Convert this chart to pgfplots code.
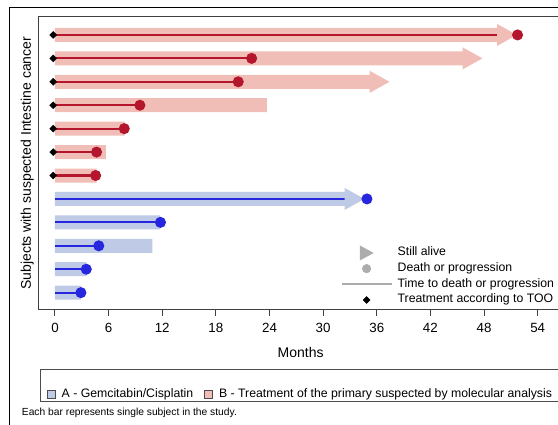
\documentclass[border=0pt]{standalone}
\usepackage{pgfplots}
\usepackage{pgfplotstable}
\pgfplotsset{compat=1.18}
\usepackage{fontspec}
\setmainfont{Liberation Sans}
\definecolor{redbar}{RGB}{240,190,182}
\definecolor{redline}{RGB}{180,22,45}
\definecolor{bluebar}{RGB}{190,202,230}
\definecolor{blueline}{RGB}{38,38,222}
\definecolor{keygray}{RGB}{172,172,172}

\pgfdeclareplotmark{rarrow}{%
 \pgfpathmoveto{\pgfpoint{-0.6pt}{8.25pt}}%
 \pgfpathlineto{\pgfpoint{14.25pt}{0pt}}%
 \pgfpathlineto{\pgfpoint{-0.6pt}{-8.25pt}}%
 \pgfpathclose\pgfusepathqfill}

% group B (red): row, bar end (arrow base for still alive), death/progression time
\pgfplotstableread{
y bar dot
12 49.55 51.75
11 45.7 22.0
10 35.3 20.5
9 23.7 9.5
8 7.8 7.75
7 5.7 4.65
6 4.65 4.55
}\redtab
\pgfplotstableread{
y x
12 49.55
11 45.7
10 35.3
}\redarrows
\pgfplotstableread{
y x
12 -0.2
11 -0.2
10 -0.2
9 -0.2
8 -0.2
7 -0.2
6 -0.2
}\diamonds
% group A (blue)
\pgfplotstableread{
y bar dot
5 32.5 34.9
4 11.75 11.8
3 10.9 4.9
2 3.5 3.5
1 2.9 2.9
}\bluetab
\pgfplotstableread{
y x
5 32.5
}\bluearrows

\begin{document}
\begin{tikzpicture}
\begin{axis}[
  at={(0,0)}, anchor=south west,
  scale only axis, width=396pt, height=220pt,
  xmin=-1.87, xmax=57.2, ymin=0.26, ymax=12.78,
  xtick={0,6,...,54}, ytick=\empty,
  xtick pos=lower, tick align=outside, major tick length=4.5pt,
  axis line style={black!75, line width=0.75pt},
  tick style={black!75, line width=0.75pt},
  every tick label/.append style={font=\fontsize{10}{12}\selectfont},
  xticklabel style={yshift=-2pt},
  /pgf/number format/assume math mode=true,
  xlabel={Months}, ylabel={Subjects with suspected Intestine cancer},
  label style={font=\fontsize{10.5}{12}\selectfont},
  xlabel style={at={(axis description cs:0.497,0)}, anchor=center, yshift=-31.5pt},
  ylabel style={at={(axis description cs:-0.0208,0.5)}, anchor=center},
  legend style={at={(axis description cs:0.572,0.222)}, anchor=north west,
    draw=none, fill=none, inner sep=0pt, column sep=3.75pt, row sep=0pt,
    font=\fontsize{9.2}{11}\selectfont,
    nodes={inner sep=0pt, text height=8pt, text depth=3.75pt}},
  legend cell align=left,
]
\addplot[xbar, bar shift=0pt, bar width=10.5pt, fill=redbar, draw=none, forget plot] table[x=bar,y=y]{\redtab};
\addplot[only marks, mark=rarrow, mark options={fill=redbar, draw=none}, forget plot] table[x=x,y=y]{\redarrows};
\addplot[xbar, bar shift=0pt, bar width=10.5pt, fill=bluebar, draw=none, forget plot] table[x=bar,y=y]{\bluetab};
\addplot[only marks, mark=rarrow, mark options={fill=bluebar, draw=none}, forget plot] table[x=x,y=y]{\bluearrows};
\addplot[xcomb, redline, line width=1.6pt, mark=*, mark size=3.3pt, mark options={fill=redline, draw=none}, forget plot] table[x=dot,y=y]{\redtab};
\addplot[xcomb, blueline, line width=1.6pt, mark=*, mark size=3.3pt, mark options={fill=blueline, draw=none}, forget plot] table[x=dot,y=y]{\bluetab};
\addplot[only marks, mark=square*, mark size=1.8pt, mark options={rotate=45, fill=black, draw=none}, forget plot] table[x=x,y=y]{\diamonds};

\addlegendimage{legend image code/.code={\path[draw=none,fill=none] (0pt,-3pt) rectangle (37.5pt,3pt);
  \fill[keygray] (13.9pt,5.25pt) -- (23.6pt,0pt) -- (13.9pt,-5.25pt) -- cycle;}}
\addlegendentry{Still alive}
\addlegendimage{legend image code/.code={\path[draw=none,fill=none] (0pt,-3pt) rectangle (37.5pt,3pt);
  \fill[keygray] (18.75pt,0pt) circle (3.2pt);}}
\addlegendentry{Death or progression}
\addlegendimage{legend image code/.code={\path[draw=none,fill=none] (0pt,-3pt) rectangle (37.5pt,3pt);
  \draw[keygray, line width=1.6pt] (0pt,0pt) -- (37.5pt,0pt);}}
\addlegendentry{Time to death or progression}
\addlegendimage{legend image code/.code={\path[draw=none,fill=none] (0pt,-3pt) rectangle (37.5pt,3pt);
  \fill[black] (18.75pt,2.6pt) -- (21.35pt,0pt) -- (18.75pt,-2.6pt) -- (16.15pt,0pt) -- cycle;}}
\addlegendentry{Treatment according to TOO}
\end{axis}

\begin{axis}[
  at={(0,0)}, anchor=south west,
  scale only axis, width=396pt, height=220pt,
  xmin=0, xmax=1, ymin=0, ymax=1, hide axis,
  legend columns=2,
  legend style={at={(axis description cs:0.0159,-0.2864)}, anchor=west,
    draw=none, fill=none, inner sep=0pt, column sep=4.5pt,
    font=\fontsize{9.2}{11}\selectfont,
    nodes={inner sep=0pt},
    /tikz/every even column/.append style={column sep=8.25pt}},
]
\addlegendimage{legend image code/.code={\filldraw[fill=bluebar, draw=black!70, line width=0.6pt] (0pt,-3pt) rectangle (6pt,3pt);}}
\addlegendentry{A - Gemcitabin/Cisplatin}
\addlegendimage{legend image code/.code={\filldraw[fill=redbar, draw=black!70, line width=0.6pt] (0pt,-3pt) rectangle (6pt,3pt);}}
\addlegendentry{B - Treatment of the primary suspected by molecular analysis}
\end{axis}

\draw[black, line width=0.75pt] (-21.75pt,-100pt) -- (-21.75pt,227pt) -- (400pt,227pt);
\draw[black!70, line width=0.75pt] (400pt,-44.5pt) -- (2pt,-44.5pt) -- (2pt,-69pt) -- (400pt,-69pt);
\node[anchor=west, inner sep=0pt, font=\fontsize{7.7}{9}\selectfont] at (-12.45pt,-77pt) {Each bar represents single subject in the study.};

\pgfresetboundingbox
\path[use as bounding box] (-28.7pt,-86.25pt) rectangle (389.8pt,232.5pt);
\end{tikzpicture}
\end{document}
